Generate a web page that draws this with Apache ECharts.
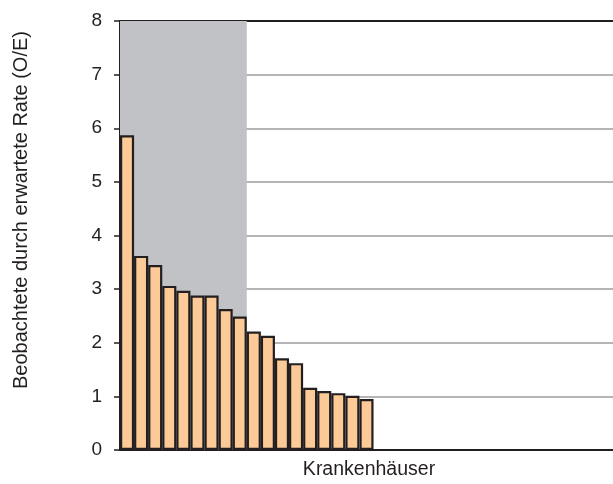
<!DOCTYPE html>
<html>
<head>
<meta charset="utf-8">
<script src="https://cdn.jsdelivr.net/npm/echarts@6/dist/echarts.min.js"></script>
<style>
  html, body { margin: 0; padding: 0; background: #ffffff; }
  #chart { width: 613px; height: 484px; }
</style>
</head>
<body>
<div id="chart"></div>
<script>
// Hospital slots along the x axis (only the first ones carry a ratio)
var hospitals = [];
for (var i = 1; i <= 35; i++) hospitals.push('K' + i);

// Observed / expected rate per hospital, sorted descending
var oeRatio = [5.87, 3.62, 3.45, 3.06, 2.97, 2.88, 2.88, 2.63, 2.49,
               2.21, 2.13, 1.71, 1.62, 1.16, 1.10, 1.06, 1.01, 0.95];

// Number of leading hospitals inside the highlighted band
var highlightedCount = 9;

var yTicks = [0, 1, 2, 3, 4, 5, 6, 7, 8];
var yMax = yTicks[yTicks.length - 1];

var rateData = hospitals.map(function (h, i) {
  return i < oeRatio.length ? oeRatio[i] : '-';
});

var font = '"Liberation Sans", Arial, Helvetica, sans-serif';
var ink = '#231f20';
var bandGrey = '#c1c2c6';

var chart = echarts.init(document.getElementById('chart'), null, { renderer: 'canvas' });
chart.setOption({
  animation: false,
  backgroundColor: '#ffffff',
  grid: { left: 120, right: -5, top: 21, bottom: 34, containLabel: false },
  xAxis: [{
    type: 'category',
    data: hospitals,
    boundaryGap: true,
    axisLine: { show: true, lineStyle: { color: ink, width: 2 } },
    axisTick: { show: false },
    axisLabel: { show: false },
    splitLine: { show: false }
  }, {
    type: 'category',
    data: hospitals,
    position: 'top',
    axisLine: { show: true, lineStyle: { color: ink, width: 2 } },
    axisTick: { show: false },
    axisLabel: { show: false },
    splitLine: { show: false }
  }],
  yAxis: {
    type: 'value',
    min: 0,
    max: yMax,
    interval: 1,
    axisLine: { show: true, lineStyle: { color: ink, width: 2 } },
    axisTick: { show: true, length: 6, lineStyle: { color: ink, width: 1.5 } },
    axisLabel: {
      margin: 18,
      color: ink,
      fontSize: 19,
      fontFamily: font
    },
    splitLine: { show: true, lineStyle: { color: '#9c9c9c', width: 1.5 } }
  },
  series: [{
    // one grey block spanning the first highlighted hospitals, full height
    name: 'band',
    type: 'custom',
    silent: true,
    z: 1,
    data: [[0, highlightedCount - 1]],
    renderItem: function (params, api) {
      var first = api.value(0);
      var last = api.value(1);
      var topLeft = api.coord([first, yMax]);
      var bottomRight = api.coord([last, 0]);
      var slot = api.size([1, 0])[0];
      return {
        type: 'rect',
        shape: {
          x: topLeft[0] - slot / 2,
          y: topLeft[1],
          width: bottomRight[0] - topLeft[0] + slot,
          height: bottomRight[1] - topLeft[1]
        },
        style: { fill: bandGrey }
      };
    }
  }, {
    name: 'O/E',
    type: 'bar',
    data: rateData,
    barWidth: '100%',
    itemStyle: { color: '#fbca97', borderColor: ink, borderWidth: 2.2 },
    z: 2
  }],
  graphic: [{
    type: 'text',
    rotation: Math.PI / 2,
    x: 21,
    y: 210,
    style: {
      text: 'Beobachtete durch erwartete Rate (O/E)',
      fill: ink,
      font: '20px ' + font,
      textAlign: 'center',
      textVerticalAlign: 'middle'
    }
  }, {
    type: 'text',
    x: 369,
    y: 470,
    style: {
      text: 'Krankenhäuser',
      fill: ink,
      font: '19.5px ' + font,
      textAlign: 'center',
      textVerticalAlign: 'middle'
    }
  }]
});
</script>
</body>
</html>
